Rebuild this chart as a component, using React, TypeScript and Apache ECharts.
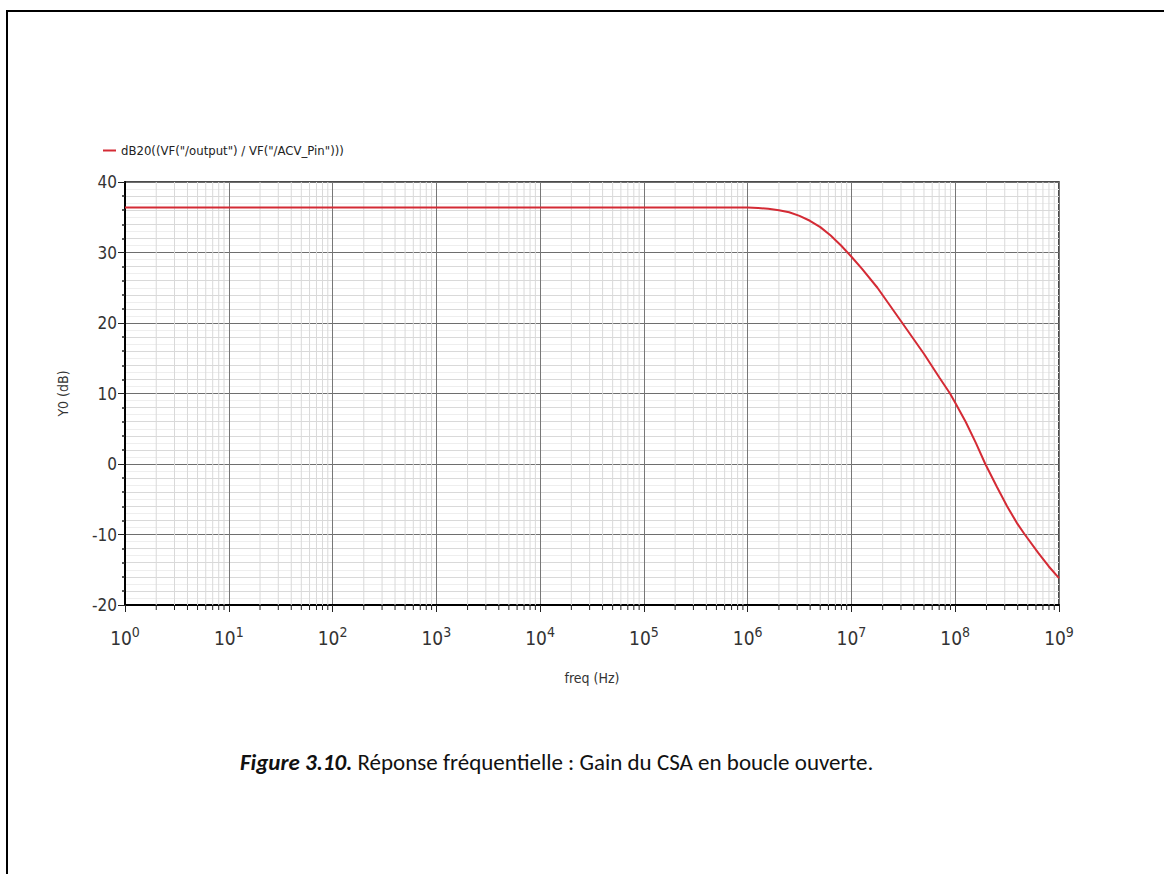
import React, { useEffect, useRef } from "react";
import * as echarts from "echarts";

const SERIES_NAME = 'dB20((VF("/output") / VF("/ACV_Pin")))';
const freqHz = [
  1, 10, 100, 1e3, 1e4, 1e5, 1e6, 1.26e6, 1.58e6, 2e6, 2.51e6, 3.16e6, 3.98e6, 5.01e6, 6.31e6, 7.94e6,
  1e7, 1.26e7, 1.78e7, 3.09e7, 5.01e7, 7.08e7, 8.91e7, 1e8, 1.26e8, 1.58e8, 1.95e8, 2.51e8, 3.16e8,
  3.98e8, 4.68e8, 6.31e8, 7.94e8, 1e9,
];
const gainDb = [
  36.4, 36.4, 36.4, 36.4, 36.4, 36.4, 36.4, 36.3, 36.2, 36.0, 35.7, 35.2, 34.5, 33.6, 32.4, 31.0,
  29.4, 27.7, 25.0, 20.0, 15.6, 12.2, 10.0, 8.7, 6.0, 3.0, 0.0, -3.2, -6.0,
  -8.5, -10.0, -12.6, -14.5, -16.2,
];
const decades = [0, 1, 2, 3, 4, 5, 6, 7, 8];
const minorMultipliers = [2, 3, 4, 5, 6, 7, 8, 9];
const Y_MIN = -20;
const Y_MAX = 40;
const Y_STEP = 10;
const X_MIN = 1;
const X_MAX = 1e9;
const CAPTION_BOLD = "Figure 3.10.";
const CAPTION_TEXT = " Réponse fréquentielle : Gain du CSA en boucle ouverte.";

const NARROW = '"Liberation Sans Narrow", "DejaVu Sans Condensed", "Liberation Sans", sans-serif';
const CAPTION_FONT = 'Carlito, Lato, "Open Sans", sans-serif';

export default function App() {
  const ref = useRef<HTMLDivElement>(null);

  useEffect(() => {
    if (!ref.current) return;
    const chart = echarts.init(ref.current, undefined, { renderer: "svg" });
    const seriesData = freqHz.map((f, i) => [f, gainDb[i]]);
    const minorData: number[][] = [];
    decades.forEach((d) => {
      minorMultipliers.forEach((m) => {
        minorData.push([m * Math.pow(10, d), Y_MIN]);
      });
    });

    chart.setOption({
      animation: false,
      backgroundColor: "#ffffff",
      grid: {
        left: 125,
        right: 105,
        top: 182,
        bottom: 269,
        show: true,
        borderColor: "#111",
        borderWidth: 1.5,
        backgroundColor: "#ffffff",
      },
      legend: {
        show: true,
        left: 98,
        top: 139,
        icon: "rect",
        itemWidth: 13,
        itemHeight: 2,
        itemGap: 6,
        textStyle: { fontFamily: NARROW, fontSize: 13, color: "#222" },
        data: [SERIES_NAME],
      },
      xAxis: {
        type: "log",
        logBase: 10,
        min: X_MIN,
        max: X_MAX,
        name: "freq (Hz)",
        nameLocation: "middle",
        nameGap: 66,
        nameTextStyle: { fontFamily: NARROW, fontSize: 14, color: "#333" },
        axisLine: { show: true, onZero: false, lineStyle: { color: "#000", width: 2 } },
        axisTick: { show: true, length: 7, lineStyle: { color: "#222", width: 1 } },
        axisLabel: {
          margin: 20,
          color: "#333",
          fontFamily: NARROW,
          formatter: (v: number) => `{b|10}{s|${Math.round(Math.log10(v))}}`,
          rich: {
            b: { fontSize: 19, fontFamily: NARROW, color: "#333" },
            s: { fontSize: 14, fontFamily: NARROW, color: "#333", padding: [0, 0, 12, 0] },
          },
        },
        splitLine: { show: true, lineStyle: { color: "#777777", width: 1 } },
        minorTick: { show: false },
        minorSplitLine: { show: false },
      },
      yAxis: [
        {
          type: "value",
          min: Y_MIN,
          max: Y_MAX,
          interval: Y_STEP,
          name: "Y0 (dB)",
          nameLocation: "middle",
          nameGap: 55,
          nameRotate: 90,
          nameTextStyle: { fontFamily: NARROW, fontSize: 14, color: "#333" },
          axisLine: { show: true, onZero: false, lineStyle: { color: "#000", width: 2 } },
          axisTick: { show: true, length: 7, lineStyle: { color: "#222", width: 1 } },
          axisLabel: { fontFamily: NARROW, fontSize: 17, color: "#333", margin: 8 },
          splitLine: { show: true, lineStyle: { color: "#6e6e6e", width: 1 } },
          minorTick: { show: false, splitNumber: 10 },
          minorSplitLine: { show: true, lineStyle: { color: "#eeeeee", width: 1 } },
        },
        {
          type: "value",
          min: Y_MIN,
          max: Y_MAX,
          interval: Y_STEP,
          position: "left",
          axisLine: { show: false, onZero: false },
          axisTick: { show: false },
          axisLabel: { show: false },
          splitLine: { show: false },
          minorTick: { show: true, splitNumber: 5, length: 3, lineStyle: { color: "#222", width: 1.5 } },
          minorSplitLine: { show: true, lineStyle: { color: "#d9d9d9", width: 1 } },
        },
      ],
      series: [
        {
          type: "custom",
          silent: true,
          clip: false,
          z: 1,
          data: minorData,
          encode: { x: 0, y: 1 },
          renderItem: (params: any, api: any) => {
            const f = api.value(0);
            const top = api.coord([f, Y_MAX]);
            const bottom = api.coord([f, Y_MIN]);
            return {
              type: "group",
              children: [
                {
                  type: "line",
                  shape: { x1: top[0], y1: top[1], x2: bottom[0], y2: bottom[1] },
                  style: { stroke: "#d9d9d9", lineWidth: 1 },
                },
                {
                  type: "line",
                  shape: { x1: bottom[0], y1: bottom[1], x2: bottom[0], y2: bottom[1] + 5 },
                  style: { stroke: "#222", lineWidth: 1 },
                },
              ],
            };
          },
        },
        {
          name: SERIES_NAME,
          type: "line",
          data: seriesData,
          showSymbol: false,
          symbol: "none",
          smooth: false,
          z: 5,
          itemStyle: { color: "#d42b35" },
          lineStyle: { color: "#d42b35", width: 2 },
        },
      ],
      graphic: [
        {
          type: "rect",
          silent: true,
          shape: { x: 7, y: 11, width: 1300, height: 1000 },
          style: { fill: "none", stroke: "#000", lineWidth: 2 },
        },
        {
          type: "text",
          left: 240,
          top: 750,
          style: {
            text: `{b|${CAPTION_BOLD}}{n|${CAPTION_TEXT}}`,
            rich: {
              b: { fontFamily: CAPTION_FONT, fontSize: 23, fontWeight: "bold", fontStyle: "italic", fill: "#111" },
              n: { fontFamily: CAPTION_FONT, fontSize: 23, fill: "#111" },
            },
          },
        },
      ],
    });
    return () => chart.dispose();
  }, []);

  return (
    <div
      ref={ref}
      style={{ position: "absolute", left: 0, top: 0, width: 1164, height: 874, background: "#fff" }}
    />
  );
}
